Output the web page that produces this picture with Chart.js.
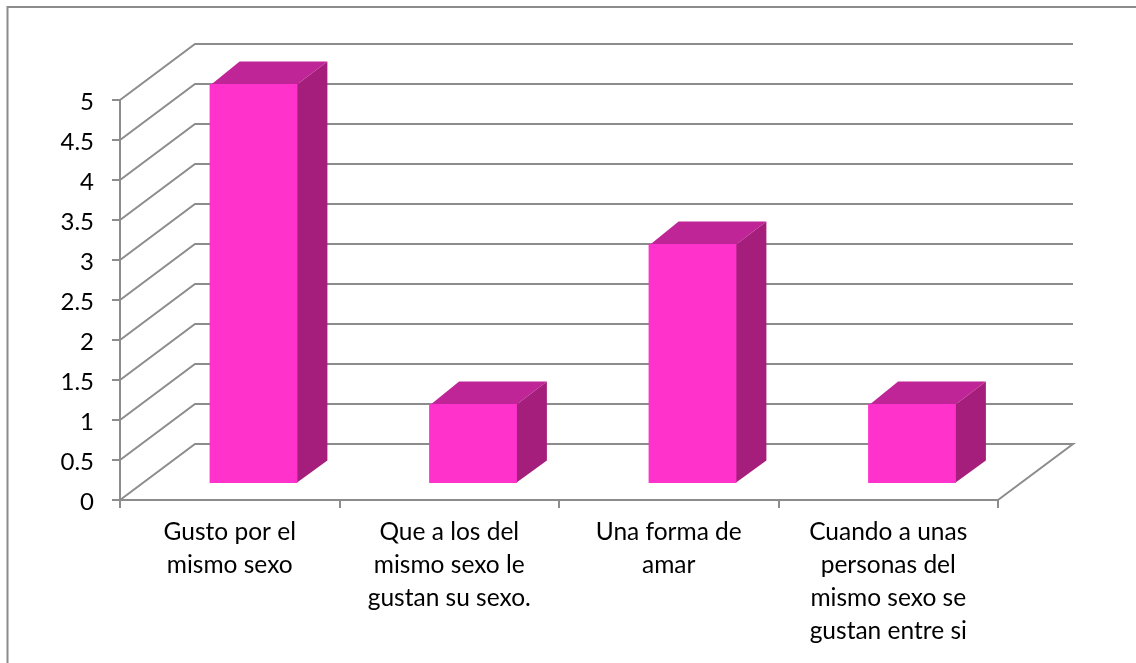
<!DOCTYPE html>
<html>
<head>
<meta charset="utf-8">
<style>html,body{margin:0;padding:0;background:#fff;overflow:hidden}canvas{display:block}</style>
<script src="https://cdn.jsdelivr.net/npm/chart.js@4/dist/chart.umd.min.js"></script>
</head>
<body>
<canvas id="c" width="1136" height="663"></canvas>
<script>
const categories = [
  ["Gusto por el", "mismo sexo"],
  ["Que a los del", "mismo sexo le", "gustan su sexo."],
  ["Una forma de", "amar"],
  ["Cuando a unas", "personas del", "mismo sexo se", "gustan entre si"]
];
const seriesValues = [5, 1, 3, 1];

const GRID = "#8c8c8c";
const FRONT = "#FF33CC", SIDE = "#A61E7C", TOP = "#BF2597";
const WALL = {dx: 75, dy: -56};
const BAR_SHIFT = {dx: 23.75, dy: -16};
const BAR_DEPTH = {dx: 30, dy: -22.5};

function poly(ctx, pts, fill) {
  ctx.beginPath();
  pts.forEach((p, i) => i ? ctx.lineTo(p[0], p[1]) : ctx.moveTo(p[0], p[1]));
  ctx.closePath();
  ctx.fillStyle = fill;
  ctx.fill();
}

const threeD = {
  id: "threeD",
  beforeDraw(chart) {
    const {ctx} = chart;
    ctx.save();
    ctx.strokeStyle = GRID;
    ctx.lineWidth = 2;
    ctx.beginPath();
    ctx.moveTo(7.5, 663);
    ctx.lineTo(7.5, 7);
    ctx.lineTo(1136, 7);
    ctx.stroke();
    ctx.restore();
  },
  beforeDatasetsDraw(chart) {
    const {ctx, scales: {y}, chartArea: a} = chart;
    ctx.save();
    ctx.strokeStyle = GRID;
    ctx.lineWidth = 2;
    y.ticks.forEach(t => {
      const py = y.getPixelForValue(t.value);
      ctx.beginPath();
      ctx.moveTo(a.left, py);
      ctx.lineTo(a.left + WALL.dx, py + WALL.dy);
      ctx.lineTo(a.right + WALL.dx, py + WALL.dy);
      if (t.value === 0) ctx.lineTo(a.right, py);
      ctx.stroke();
    });
    ctx.restore();
  },
  beforeDatasetDraw(chart) {
    const {ctx} = chart;
    ctx.save();
    ctx.translate(BAR_SHIFT.dx, BAR_SHIFT.dy);
    chart.getDatasetMeta(0).data.forEach(b => {
      const p = b.getProps(["x", "y", "base", "width"], true);
      const r = p.x + p.width / 2, l = p.x - p.width / 2;
      const d = BAR_DEPTH;
      poly(ctx, [[l + 1, p.y + 1], [l + d.dx, p.y + d.dy], [r + d.dx, p.y + d.dy], [r - 1, p.y + 1]], TOP);
      poly(ctx, [[r - 1, p.y + 1], [r + d.dx, p.y + d.dy], [r + d.dx, p.base + d.dy], [r - 1, p.base]], SIDE);
    });
  },
  afterDatasetDraw(chart) {
    chart.ctx.restore();
  }
};

new Chart(document.getElementById("c"), {
  type: "bar",
  data: {
    labels: categories,
    datasets: [{
      data: seriesValues,
      backgroundColor: FRONT,
      barPercentage: 0.4,
      categoryPercentage: 1
    }]
  },
  plugins: [threeD],
  options: {
    responsive: false,
    animation: false,
    layout: {padding: {top: 100, right: 138, left: 0, bottom: 0}},
    plugins: {legend: {display: false}, title: {display: false}, tooltip: {enabled: false}},
    scales: {
      x: {
        afterFit(s) { s.height = 163; },
        grid: {display: true, drawOnChartArea: false, color: GRID, lineWidth: 2, tickLength: 8, offset: true},
        border: {color: GRID, width: 2},
        ticks: {
          color: "#000",
          autoSkip: false,
          maxRotation: 0,
          minRotation: 0,
          padding: 8,
          font: {family: "Lato", size: 24.5, lineHeight: 33 / 24.5}
        }
      },
      y: {
        min: 0,
        max: 5,
        afterFit(s) { s.width = 120; },
        grid: {display: true, drawOnChartArea: false, color: GRID, lineWidth: 2, tickLength: 8},
        border: {color: GRID, width: 2},
        ticks: {
          stepSize: 0.5,
          color: "#000",
          padding: 18,
          labelOffset: 2,
          callback: v => String(v),
          font: {family: "Lato", size: 24}
        }
      }
    }
  }
});
</script>
</body>
</html>
